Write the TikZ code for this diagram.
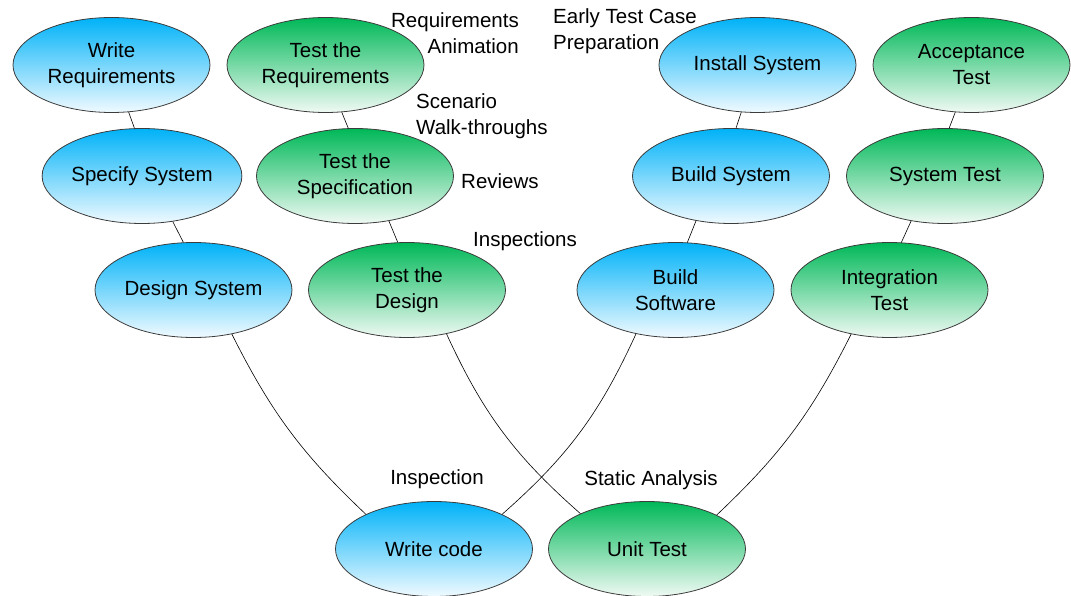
\documentclass[tikz,border=0pt]{standalone}
\usepackage{fontspec}
\setmainfont{Liberation Sans}
\usetikzlibrary{shapes.geometric}

\definecolor{devtop}{RGB}{0,178,248}
\definecolor{devbot}{RGB}{240,250,255}
\definecolor{testtop}{RGB}{0,184,88}
\definecolor{testbot}{RGB}{240,250,244}
\definecolor{rim}{RGB}{60,60,60}

\tikzset{
  stage/.style={ellipse, draw=rim, line width=0.8pt, minimum width=197pt,
    minimum height=95pt, inner sep=0pt, align=center,
    font=\fontsize{20.5}{26}\selectfont},
  devstage/.style={stage, top color=devtop, bottom color=devbot},
  teststage/.style={stage, top color=testtop, bottom color=testbot},
  note/.style={inner sep=0pt, font=\fontsize{20.5}{26}\selectfont},
  link/.style={draw=black, line width=0.6pt}
}

\begin{document}
\begin{tikzpicture}[x=1pt,y=-1pt]
\useasboundingbox (0,0) rectangle (1071,596);

% left arm: development stages
\node[devstage]  (wr) at (111.5,65)  {Write\\Requirements};
\node[devstage]  (ss) at (142,176)   {Specify System};
\node[devstage]  (ds) at (193.5,290) {Design System};

% test activities paired with the development stages
\node[teststage] (tr) at (325.5,65)  {Test the\\Requirements};
\node[teststage] (ts) at (355,176)   {Test the\\Specification};
\node[teststage] (td) at (407,290)   {Test the\\Design};

% right arm: integration and testing
\node[devstage]  (is) at (757.5,65)  {Install System};
\node[devstage]  (bs) at (731,176)   {Build System};
\node[devstage]  (bw) at (675.5,290) {Build\\Software};

\node[teststage] (at) at (971.5,65)  {Acceptance\\Test};
\node[teststage] (st) at (945,176)   {System Test};
\node[teststage] (it) at (889.5,290) {Integration\\Test};

% bottom of the V
\node[devstage]  (wc) at (434,549)   {Write code};
\node[teststage] (ut) at (647,549)   {Unit Test};

% techniques
\node[note, anchor=east, align=right] (n1) at (519,33)   {Requirements\\Animation};
\node[note, anchor=west, align=left]  (n2) at (416,116.5) {Scenario\\Walk-throughs};
\node[note, anchor=west]              (n3) at (461,181)  {Reviews};
\node[note, anchor=west]              (n4) at (473,241)  {Inspections};
\node[note, anchor=west, align=left]  (n5) at (553,31)   {Early Test Case\\Preparation};
\node[note]                           (n6) at (437,479)  {Inspection};
\node[note]                           (n7) at (651,480)  {Static Analysis};

% short links between neighbouring stages
\draw[link] (wr.-70.2)  -- (ss.99);
\draw[link] (ss.-56.4)  -- (ds.102.6);
\draw[link] (tr.-71.2)  -- (ts.98);
\draw[link] (ts.-53.4)  -- (td.101);
\draw[link] (is.-109.2) -- (bs.84.8);
\draw[link] (bs.-128.5) -- (bw.76.5);
\draw[link] (at.-109.4) -- (st.85.6);
\draw[link] (st.-127.8) -- (it.76.5);

% long links down to the bottom of the V
\draw[link] (ds.-49)    to[bend right=10] (wc.153);
\draw[link] (td.-48)    to[bend right=12] (ut.152.5);
\draw[link] (bw.-132.3) to[bend left=12]  (wc.27);
\draw[link] (it.-131.4) to[bend left=10]  (ut.26.4);
\end{tikzpicture}
\end{document}
